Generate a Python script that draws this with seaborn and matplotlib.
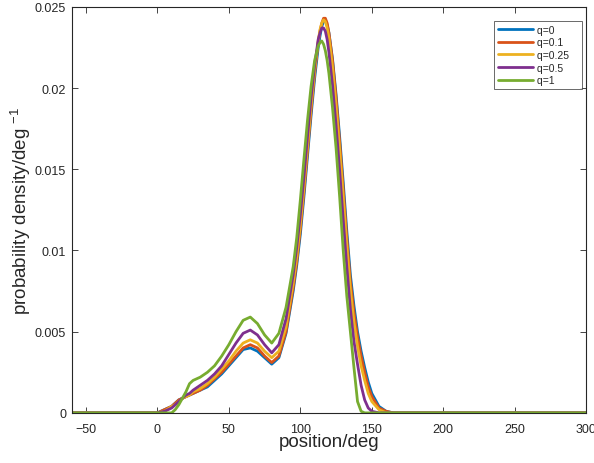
import numpy as np
import pandas as pd
import matplotlib
matplotlib.use("Agg")
import matplotlib.pyplot as plt
import seaborn as sns

positions = [-60, 0, 5, 10, 12.5, 15, 17.5, 20, 22.5, 25,
             30, 35, 40, 45, 50, 55, 60, 65, 70, 75, 80, 85, 90, 95,
             97.5, 100, 102.5, 105, 107.5, 110, 112.5, 113.75, 115, 116.25, 117.5, 118.75, 120,
             122.5, 125, 127.5, 130, 132.5, 135, 137.5, 140, 142.5, 145,
             147.5, 150, 155, 160, 165, 300]

q0 = [0, 0, 0.0002, 0.0004, 0.0006, 0.0008, 0.0009, 0.0010, 0.0011, 0.0012,
      0.0014, 0.0016, 0.0020, 0.0024, 0.0029, 0.0034, 0.0039, 0.0040, 0.0038, 0.0034, 0.0030, 0.0034, 0.0049, 0.0075,
      0.0091, 0.0110, 0.0133, 0.0158, 0.0183, 0.0206, 0.0225, 0.0232, 0.0238, 0.0241, 0.0242, 0.0239, 0.0234,
      0.0218, 0.0196, 0.0170, 0.0142, 0.0112, 0.0085, 0.0066, 0.0050, 0.0038, 0.0028,
      0.0019, 0.0012, 0.0004, 0.0001, 0, 0]

q01 = [0, 0, 0.0002, 0.0004, 0.0006, 0.0008, 0.0009, 0.0010, 0.0011, 0.0012,
       0.0014, 0.0017, 0.0021, 0.0025, 0.0030, 0.0035, 0.0040, 0.0042, 0.0040, 0.0035, 0.0031, 0.0035, 0.0050, 0.0077,
       0.0093, 0.0113, 0.0136, 0.0161, 0.0186, 0.0209, 0.0228, 0.0235, 0.0240, 0.0243, 0.0243, 0.0240, 0.0234,
       0.0217, 0.0194, 0.0167, 0.0138, 0.0108, 0.0081, 0.0062, 0.0047, 0.0035, 0.0025,
       0.0016, 0.0010, 0.0003, 0.0001, 0, 0]

q025 = [0, 0, 0.0001, 0.0004, 0.0005, 0.0007, 0.0009, 0.0010, 0.0011, 0.0013,
        0.0015, 0.0018, 0.0022, 0.0027, 0.0032, 0.0038, 0.0043, 0.0045, 0.0043, 0.0038, 0.0034, 0.0038, 0.0053, 0.0080,
        0.0096, 0.0116, 0.0139, 0.0164, 0.0189, 0.0211, 0.0229, 0.0236, 0.0240, 0.0242, 0.0241, 0.0237, 0.0231,
        0.0213, 0.0189, 0.0162, 0.0133, 0.0103, 0.0076, 0.0056, 0.0041, 0.0029, 0.0020,
        0.0012, 0.0007, 0.0002, 0, 0, 0]

q05 = [0, 0, 0.0001, 0.0003, 0.0005, 0.0007, 0.0009, 0.0011, 0.0012, 0.0014,
       0.0017, 0.0020, 0.0024, 0.0029, 0.0036, 0.0043, 0.0049, 0.0051, 0.0048, 0.0042, 0.0037, 0.0042, 0.0058, 0.0085,
       0.0102, 0.0122, 0.0145, 0.0170, 0.0194, 0.0214, 0.0230, 0.0234, 0.0237, 0.0237, 0.0235, 0.0230, 0.0222,
       0.0202, 0.0177, 0.0149, 0.0119, 0.0090, 0.0064, 0.0044, 0.0030, 0.0017, 0.0008,
       0.0003, 0.0001, 0, 0, 0, 0]

q1 = [0, 0, 0, 0, 0.0002, 0.0005, 0.0009, 0.0013, 0.0018, 0.0020,
      0.0022, 0.0025, 0.0029, 0.0035, 0.0042, 0.0050, 0.0057, 0.0059, 0.0055, 0.0048, 0.0043, 0.0049, 0.0065, 0.0090,
      0.0108, 0.0131, 0.0156, 0.0180, 0.0201, 0.0217, 0.0226, 0.0228, 0.0229, 0.0227, 0.0223, 0.0217, 0.0209,
      0.0188, 0.0163, 0.0133, 0.0100, 0.0072, 0.0050, 0.0028, 0.0007, 0.0001, 0,
      0, 0, 0, 0, 0, 0]

labels = ["q=0", "q=0.1", "q=0.25", "q=0.5", "q=1"]
colors = ["#0072BD", "#D95319", "#EDB120", "#7E2F8E", "#77AC30"]
xticks = [-50, 0, 50, 100, 150, 200, 250, 300]
yticks = [0, 0.005, 0.01, 0.015, 0.02, 0.025]
ytick_labels = ["0", "0.005", "0.01", "0.015", "0.02", "0.025"]

frames = []
for lab, vals in zip(labels, [q0, q01, q025, q05, q1]):
    frames.append(pd.DataFrame({"position": positions, "density": vals, "q": lab}))
df = pd.concat(frames, ignore_index=True)

sns.set_style("ticks")
plt.rcParams["font.family"] = ["Liberation Sans", "DejaVu Sans"]
plt.rcParams["mathtext.fontset"] = "custom"
plt.rcParams["mathtext.rm"] = "Liberation Sans"
plt.rcParams["mathtext.it"] = "Liberation Sans"

fig = plt.figure(figsize=(5.94, 4.64), dpi=100)
ax = fig.add_axes([0.1205, 0.108, 0.8665, 0.875])

sns.lineplot(data=df, x="position", y="density", hue="q", hue_order=labels,
             palette=colors, linewidth=2, ax=ax, sort=False, legend=False)

ax.set_xlim(-60, 300)
ax.set_ylim(0, 0.025)
ax.set_xticks(xticks)
ax.set_yticks(yticks)
ax.set_yticklabels(ytick_labels)
ax.tick_params(direction="in", top=True, right=True, labelsize=9,
               length=4, width=0.6, colors="#262626", pad=4)
ax.tick_params(axis="x", pad=7)
for s in ax.spines.values():
    s.set_linewidth(0.8)
    s.set_color("#262626")

ax.set_xlabel("position/deg", fontsize=13.5, color="#262626")
ax.set_ylabel("probability density/deg $^{-1}$", fontsize=13.5, color="#262626")
ax.xaxis.set_label_coords(0.5, -0.05)
ax.yaxis.set_label_coords(-0.075, 0.5)

handles = [plt.Line2D([0], [0], color=c, lw=2) for c in colors]
leg = ax.legend(handles, [l + "   " for l in labels], loc="upper right",
                bbox_to_anchor=(0.992, 0.966), borderaxespad=0,
                fontsize=7.5, frameon=True, fancybox=False, handlelength=3.35,
                handletextpad=0.4, labelspacing=0.25, borderpad=0.4)
leg.get_frame().set_edgecolor("#262626")
leg.get_frame().set_linewidth(0.6)

fig.savefig("out.png", dpi=100)
